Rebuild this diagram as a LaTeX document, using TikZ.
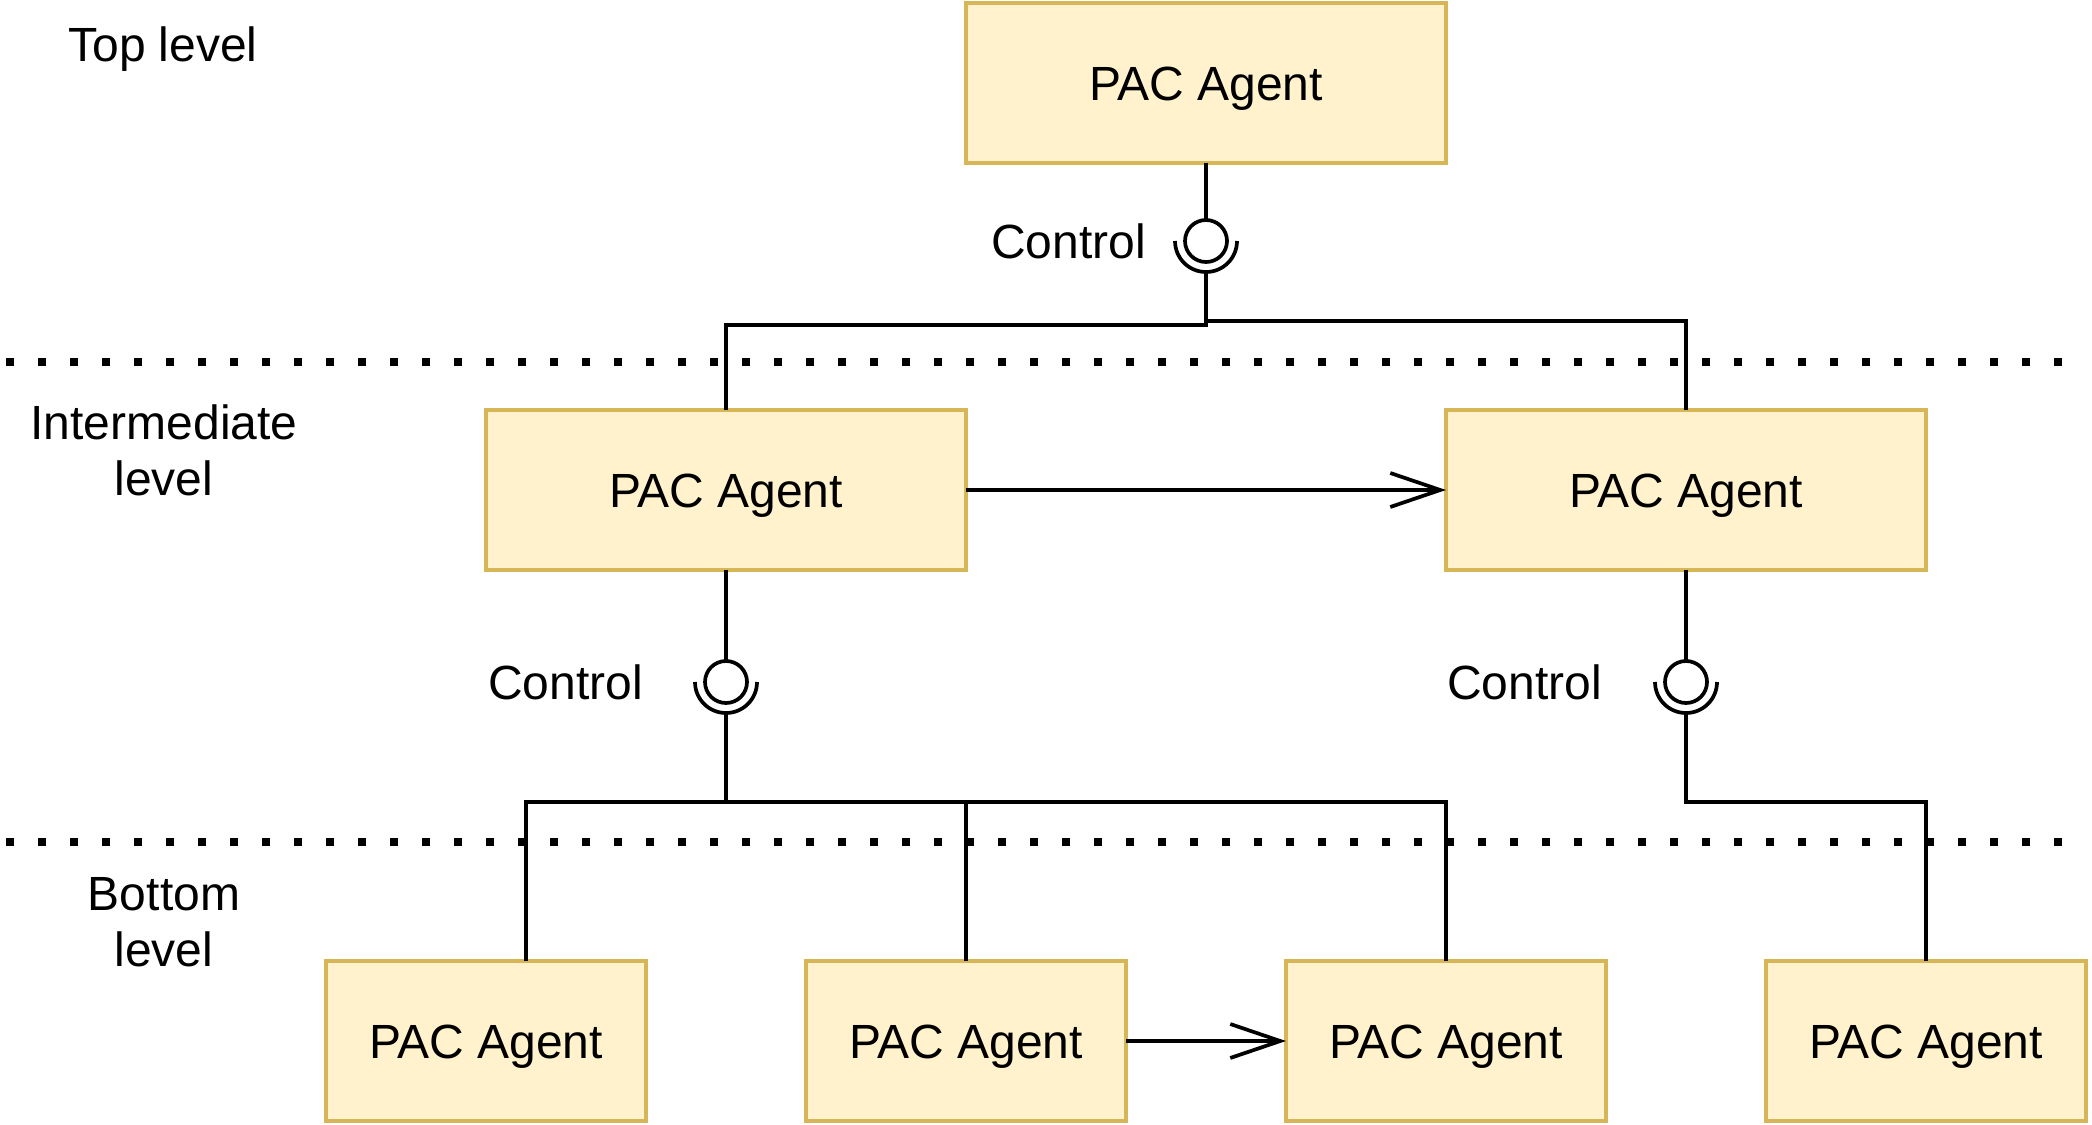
\documentclass[tikz,border=0pt]{standalone}
\usepackage{fontspec}
\setmainfont{Liberation Sans}
\usetikzlibrary{arrows.meta}
\definecolor{agentfill}{HTML}{FFF2CC}
\definecolor{agentdraw}{HTML}{D6B656}
\tikzset{
  agent/.style={draw=agentdraw, fill=agentfill, line width=4pt, inner sep=0pt, outer sep=0pt,
    minimum width=480pt, minimum height=160pt, text height=34.4pt, text depth=0pt,
    font=\fontsize{48pt}{56pt}\selectfont},
  smallagent/.style={agent, minimum width=320pt},
  lbl/.style={inner sep=0pt, outer sep=0pt, font=\fontsize{48pt}{56pt}\selectfont},
  caplbl/.style={lbl, text height=34.4pt, text depth=0pt},
  ball/.style={circle, draw, line width=3.7pt, minimum size=42pt, inner sep=0pt, outer sep=0pt},
  conn/.style={line width=3.7pt},
  arr/.style={conn, -{Straight Barb[length=50pt, width=34pt]}},
  levelsep/.style={line width=8pt, dash pattern=on 8pt off 24pt}
}
\begin{document}
\begin{tikzpicture}[x=1pt, y=-1pt]
\useasboundingbox (0,0) rectangle (2092,1124);

% level separators
\coordinate (d1a) at (6,362);
\coordinate (d1b) at (2062,362);
\coordinate (d2a) at (6,842);
\coordinate (d2b) at (2062,842);
\draw[levelsep] (d1a) -- (d1b);
\draw[levelsep] (d2a) -- (d2b);

% level labels
\node[caplbl] (toplbl) at (163,44) {Top level};
\node[lbl, align=center] (midlbl) at (164,450) {Intermediate\\level};
\node[lbl, align=center] (botlbl) at (164,922.5) {Bottom\\level};

% agents
\node[agent] (t) at (1206,83) {PAC Agent};
\node[agent] (ml) at (726,490) {PAC Agent};
\node[agent] (mr) at (1686,490) {PAC Agent};
\node[smallagent] (b1) at (486,1041) {PAC Agent};
\node[smallagent] (b2) at (966,1041) {PAC Agent};
\node[smallagent] (b3) at (1446,1041) {PAC Agent};
\node[smallagent] (b4) at (1926,1041) {PAC Agent};

% control sockets
\node[ball] (k1) at (1206,241) {};
\node[ball] (k2) at (726,682) {};
\node[ball] (k3) at (1686,682) {};
\foreach \k in {k1,k2,k3}{
  \draw[conn] ([xshift=-31pt]\k.center) arc[start angle=180, end angle=360, radius=31pt];
}
\coordinate (s1) at ([yshift=-31pt]k1.center);
\coordinate (s2) at ([yshift=-31pt]k2.center);
\coordinate (s3) at ([yshift=-31pt]k3.center);

\node[caplbl, anchor=east] (c1) at (1146,241) {Control};
\node[caplbl, anchor=east] (c2) at (643,682) {Control};
\node[caplbl, anchor=east] (c3) at (1602,682) {Control};

% connectors
\coordinate (j1) at (1206,325);
\coordinate (j1r) at (1206,321);
\coordinate (j2) at (726,802);
\coordinate (j3) at (1686,802);

\draw[conn] (t.south) -- (k1.north);
\draw[conn] (s1) -- (j1) -| (ml.north);
\draw[conn] (j1r) -| (mr.north);

\draw[conn] (ml.south) -- (k2.north);
\draw[conn] (s2) -- (j2) -| ([xshift=40pt]b1.north);
\draw[conn] (j2) -| (b2.north);
\draw[conn] (j2) -| (b3.north);

\draw[conn] (mr.south) -- (k3.north);
\draw[conn] (s3) -- (j3) -| (b4.north);

\draw[arr] (ml.east) -- (mr.west);
\draw[arr] (b2.east) -- (b3.west);
\end{tikzpicture}
\end{document}
